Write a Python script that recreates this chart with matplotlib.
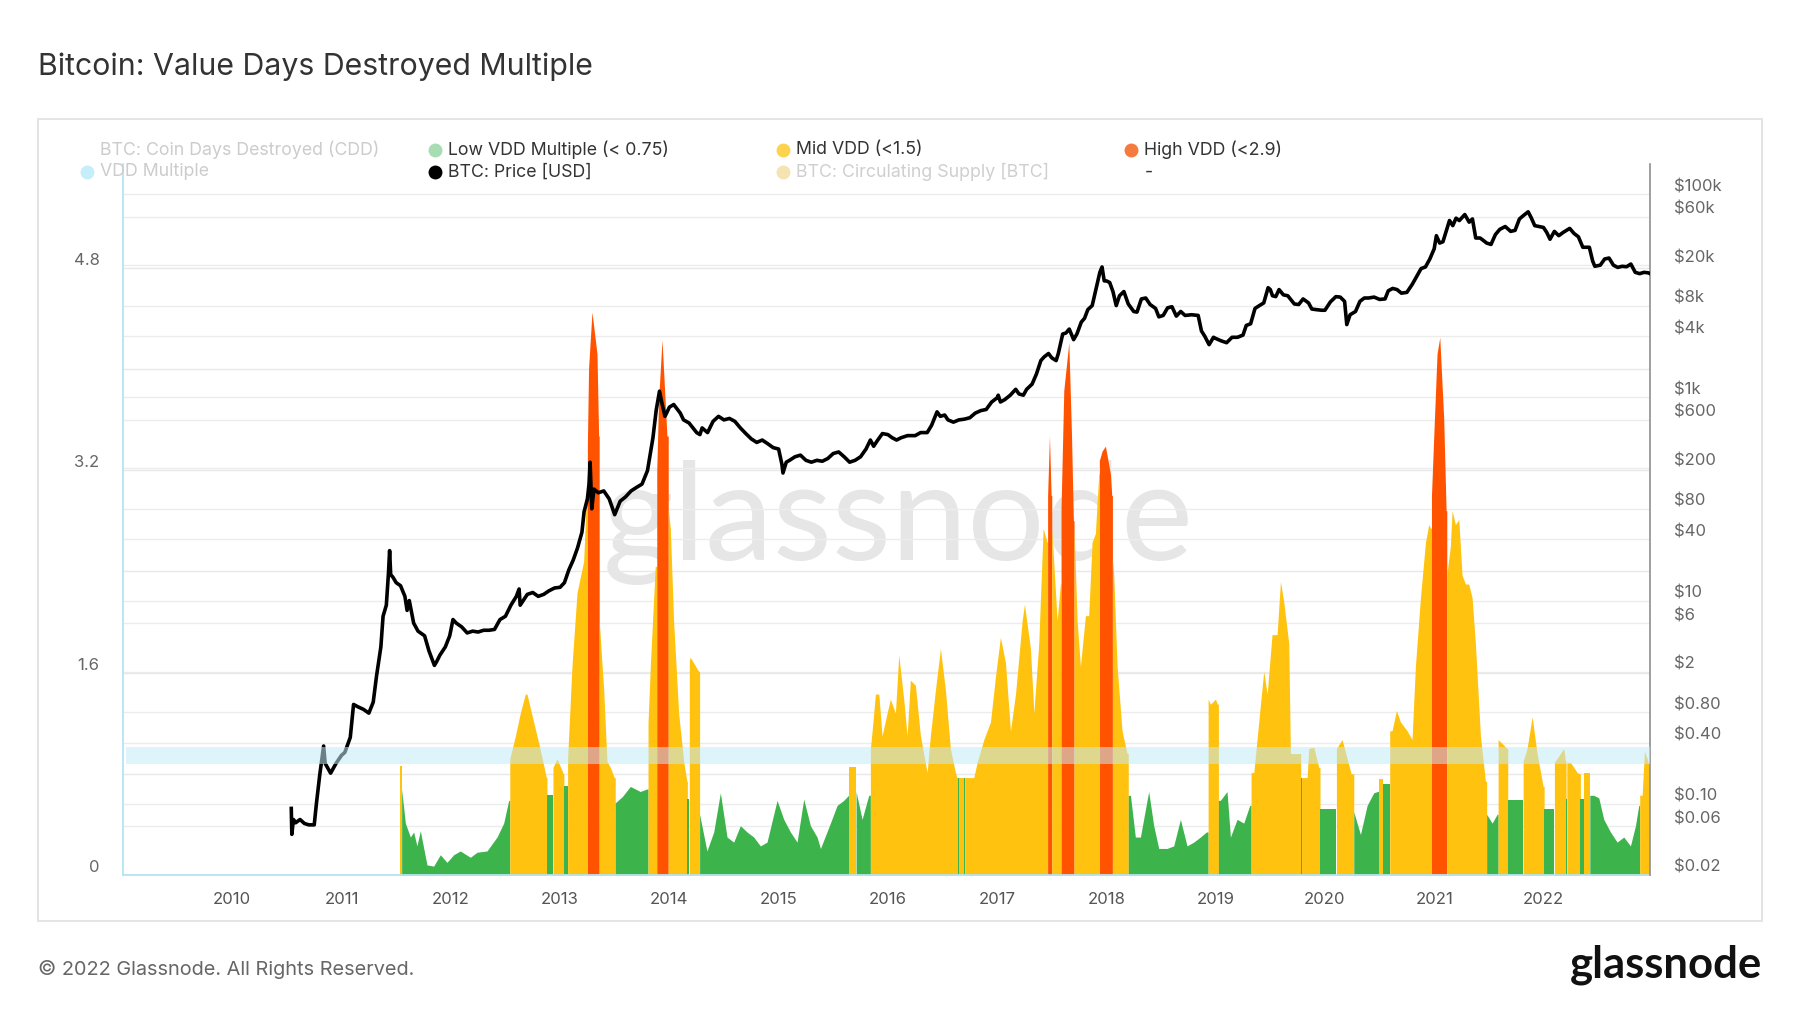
import numpy as np
import matplotlib
matplotlib.use('Agg')
import matplotlib.pyplot as plt
from matplotlib.lines import Line2D
from matplotlib.patches import Rectangle
from matplotlib.ticker import FixedLocator, NullLocator
import matplotlib.transforms as mtransforms

plt.rcParams['font.family'] = ['Inter', 'DejaVu Sans']

# ---------------- data ----------------
# VDD multiple samples: decimal year, value, level (0 low / 1 mid / 2 high)
vdd_year = [
    2011.535, 2011.550, 2011.584, 2011.630, 2011.660, 2011.690, 2011.721, 2011.782, 2011.843, 2011.904,
    2011.965, 2012.026, 2012.087, 2012.179, 2012.240, 2012.331, 2012.423, 2012.484, 2012.530, 2012.540,
    2012.591, 2012.636, 2012.682, 2012.697, 2012.758, 2012.819, 2012.874, 2012.880, 2012.926, 2012.935,
    2012.972, 2013.030, 2013.035, 2013.063, 2013.069, 2013.109, 2013.155, 2013.216, 2013.246, 2013.250,
    2013.261, 2013.292, 2013.338, 2013.353, 2013.358, 2013.399, 2013.429, 2013.460, 2013.496, 2013.505,
    2013.570, 2013.643, 2013.734, 2013.795, 2013.805, 2013.826, 2013.871, 2013.885, 2013.902, 2013.933,
    2013.978, 2013.990, 2014.009, 2014.039, 2014.085, 2014.131, 2014.161, 2014.165, 2014.177, 2014.183,
    2014.192, 2014.268, 2014.277, 2014.344, 2014.406, 2014.467, 2014.528, 2014.589, 2014.650, 2014.711,
    2014.772, 2014.833, 2014.894, 2014.986, 2015.047, 2015.108, 2015.169, 2015.230, 2015.291, 2015.352,
    2015.383, 2015.474, 2015.535, 2015.596, 2015.640, 2015.648, 2015.703, 2015.709, 2015.764, 2015.825,
    2015.840, 2015.856, 2015.886, 2015.917, 2015.947, 2015.993, 2016.023, 2016.069, 2016.100, 2016.145,
    2016.176, 2016.206, 2016.252, 2016.298, 2016.359, 2016.389, 2016.435, 2016.481, 2016.527, 2016.572,
    2016.618, 2016.633, 2016.640, 2016.648, 2016.695, 2016.703, 2016.725, 2016.786, 2016.817, 2016.878,
    2016.939, 2016.985, 2017.030, 2017.076, 2017.122, 2017.168, 2017.229, 2017.250, 2017.305, 2017.336,
    2017.381, 2017.421, 2017.457, 2017.462, 2017.479, 2017.494, 2017.500, 2017.549, 2017.579, 2017.585,
    2017.610, 2017.656, 2017.680, 2017.698, 2017.704, 2017.732, 2017.762, 2017.808, 2017.838, 2017.869,
    2017.899, 2017.930, 2017.937, 2017.960, 2017.991, 2018.037, 2018.049, 2018.055, 2018.067, 2018.098,
    2018.143, 2018.189, 2018.200, 2018.220, 2018.265, 2018.311, 2018.387, 2018.433, 2018.479, 2018.555,
    2018.616, 2018.677, 2018.738, 2018.799, 2018.860, 2018.915, 2018.931, 2018.952, 2018.998, 2019.016,
    2019.025, 2019.043, 2019.104, 2019.135, 2019.196, 2019.257, 2019.312, 2019.324, 2019.349, 2019.410,
    2019.440, 2019.471, 2019.516, 2019.562, 2019.593, 2019.623, 2019.669, 2019.684, 2019.730, 2019.770,
    2019.778, 2019.786, 2019.837, 2019.852, 2019.898, 2019.944, 2019.955, 2020.096, 2020.105, 2020.157,
    2020.240, 2020.264, 2020.294, 2020.325, 2020.386, 2020.447, 2020.483, 2020.492, 2020.523, 2020.529,
    2020.584, 2020.593, 2020.614, 2020.654, 2020.691, 2020.752, 2020.797, 2020.828, 2020.874, 2020.920,
    2020.950, 2020.968, 2020.975, 2020.996, 2021.026, 2021.051, 2021.087, 2021.109, 2021.115, 2021.148,
    2021.164, 2021.194, 2021.225, 2021.255, 2021.286, 2021.316, 2021.347, 2021.377, 2021.423, 2021.469,
    2021.480, 2021.530, 2021.576, 2021.585, 2021.667, 2021.673, 2021.805, 2021.814, 2021.850, 2021.896,
    2021.942, 2021.997, 2022.006, 2022.094, 2022.100, 2022.186, 2022.201, 2022.207, 2022.214, 2022.247,
    2022.308, 2022.332, 2022.338, 2022.363, 2022.369, 2022.415, 2022.424, 2022.460, 2022.506, 2022.552,
    2022.613, 2022.674, 2022.735, 2022.796, 2022.842, 2022.872, 2022.881, 2022.903, 2022.924, 2022.949,
    2022.970,
]
vdd_value = [
    0.86, 0.68, 0.41, 0.30, 0.34, 0.23, 0.35, 0.08, 0.07, 0.16,
    0.10, 0.16, 0.19, 0.14, 0.18, 0.19, 0.30, 0.41, 0.59, 0.92,
    1.10, 1.28, 1.43, 1.43, 1.21, 0.99, 0.77, 0.63, 0.63, 0.85,
    0.92, 0.80, 0.70, 0.70, 0.92, 1.65, 2.23, 2.48, 3.10, 3.40,
    4.01, 4.45, 4.12, 3.47, 2.01, 1.47, 0.90, 0.85, 0.77, 0.57,
    0.62, 0.70, 0.66, 0.68, 1.20, 1.65, 2.44, 3.20, 3.76, 4.23,
    3.47, 2.90, 2.74, 2.01, 1.28, 0.90, 0.74, 0.60, 0.60, 1.70,
    1.72, 1.61, 0.48, 0.19, 0.34, 0.65, 0.30, 0.26, 0.39, 0.34,
    0.30, 0.23, 0.26, 0.59, 0.44, 0.34, 0.26, 0.60, 0.39, 0.30,
    0.21, 0.41, 0.55, 0.59, 0.63, 0.85, 0.85, 0.66, 0.44, 0.63,
    1.00, 1.14, 1.43, 1.43, 1.10, 1.28, 1.39, 1.28, 1.74, 1.39,
    1.10, 1.54, 1.50, 1.10, 0.81, 1.10, 1.46, 1.79, 1.46, 1.00,
    0.81, 0.77, 0.77, 0.77, 0.77, 0.77, 0.77, 0.77, 0.89, 1.07,
    1.21, 1.57, 1.88, 1.68, 1.14, 1.43, 2.01, 2.14, 1.79, 1.28,
    1.83, 2.74, 2.63, 3.00, 3.47, 3.00, 2.74, 2.01, 2.30, 2.90,
    3.83, 4.21, 3.50, 2.80, 2.74, 2.01, 1.65, 2.05, 2.05, 2.63,
    2.70, 3.17, 3.28, 3.35, 3.39, 3.17, 3.00, 2.50, 2.37, 1.65,
    1.14, 0.96, 0.63, 0.63, 0.30, 0.30, 0.66, 0.39, 0.21, 0.21,
    0.23, 0.44, 0.23, 0.26, 0.30, 0.34, 1.39, 1.35, 1.39, 1.35,
    0.59, 0.59, 0.66, 0.30, 0.44, 0.41, 0.55, 0.81, 0.81, 1.35,
    1.61, 1.43, 1.90, 1.90, 2.32, 2.16, 1.83, 0.96, 0.96, 0.96,
    0.77, 0.77, 0.77, 1.00, 1.01, 0.85, 0.52, 0.52, 1.00, 1.07,
    0.80, 0.50, 0.41, 0.32, 0.55, 0.65, 0.66, 0.76, 0.76, 0.72,
    0.72, 1.14, 1.14, 1.30, 1.21, 1.14, 1.07, 1.65, 2.19, 2.63,
    2.77, 2.74, 3.00, 3.47, 4.12, 4.25, 3.61, 2.88, 2.37, 2.60,
    2.88, 2.77, 2.81, 2.37, 2.30, 2.30, 2.19, 1.83, 1.10, 0.74,
    0.48, 0.41, 0.48, 1.07, 1.00, 0.59, 0.59, 0.90, 1.00, 1.25,
    0.96, 0.70, 0.52, 0.52, 0.89, 1.00, 0.90, 0.60, 0.89, 0.89,
    0.81, 0.80, 0.60, 0.60, 0.81, 0.81, 0.63, 0.63, 0.61, 0.44,
    0.34, 0.26, 0.30, 0.23, 0.39, 0.55, 0.63, 0.63, 0.98, 0.92,
    0.85,
]
vdd_level = [
    1, 0, 0, 0, 0, 0, 0, 0, 0, 0,
    0, 0, 0, 0, 0, 0, 0, 0, 0, 1,
    1, 1, 1, 1, 1, 1, 1, 0, 0, 1,
    1, 1, 0, 0, 1, 1, 1, 1, 1, 2,
    2, 2, 2, 2, 1, 1, 1, 1, 1, 0,
    0, 0, 0, 0, 1, 1, 1, 2, 2, 2,
    2, 1, 1, 1, 1, 1, 1, 0, 0, 1,
    1, 1, 0, 0, 0, 0, 0, 0, 0, 0,
    0, 0, 0, 0, 0, 0, 0, 0, 0, 0,
    0, 0, 0, 0, 0, 1, 1, 0, 0, 0,
    1, 1, 1, 1, 1, 1, 1, 1, 1, 1,
    1, 1, 1, 1, 1, 1, 1, 1, 1, 1,
    1, 1, 0, 1, 0, 1, 1, 1, 1, 1,
    1, 1, 1, 1, 1, 1, 1, 1, 1, 1,
    1, 1, 1, 2, 2, 2, 1, 1, 1, 2,
    2, 2, 2, 2, 1, 1, 1, 1, 1, 1,
    1, 1, 2, 2, 2, 2, 2, 1, 1, 1,
    1, 1, 0, 0, 0, 0, 0, 0, 0, 0,
    0, 0, 0, 0, 0, 0, 1, 1, 1, 1,
    0, 0, 0, 0, 0, 0, 0, 1, 1, 1,
    1, 1, 1, 1, 1, 1, 1, 1, 1, 1,
    0, 1, 1, 1, 1, 1, 0, 0, 1, 1,
    1, 0, 0, 0, 0, 0, 0, 1, 1, 0,
    0, 1, 1, 1, 1, 1, 1, 1, 1, 1,
    1, 1, 2, 2, 2, 2, 2, 2, 1, 1,
    1, 1, 1, 1, 1, 1, 1, 1, 1, 1,
    0, 0, 0, 1, 1, 0, 0, 1, 1, 1,
    1, 1, 0, 0, 1, 1, 1, 0, 1, 1,
    1, 1, 0, 0, 1, 1, 0, 0, 0, 0,
    0, 0, 0, 0, 0, 0, 1, 1, 1, 1,
    1,
]

# BTC price (USD)
price_year = [
    2010.540, 2010.545, 2010.560, 2010.580, 2010.620, 2010.660, 2010.700, 2010.750, 2010.770, 2010.800,
    2010.836, 2010.850, 2010.900, 2010.950, 2011.000, 2011.030, 2011.080, 2011.110, 2011.150, 2011.200,
    2011.250, 2011.290, 2011.320, 2011.360, 2011.380, 2011.410, 2011.430, 2011.440, 2011.450, 2011.470,
    2011.500, 2011.540, 2011.580, 2011.600, 2011.620, 2011.660, 2011.700, 2011.760, 2011.800, 2011.850,
    2011.870, 2011.900, 2011.950, 2011.990, 2012.020, 2012.050, 2012.100, 2012.150, 2012.200, 2012.250,
    2012.300, 2012.350, 2012.400, 2012.450, 2012.500, 2012.550, 2012.600, 2012.625, 2012.635, 2012.700,
    2012.750, 2012.800, 2012.850, 2012.900, 2012.950, 2013.000, 2013.040, 2013.080, 2013.120, 2013.160,
    2013.200, 2013.220, 2013.250, 2013.265, 2013.275, 2013.290, 2013.310, 2013.350, 2013.400, 2013.450,
    2013.500, 2013.550, 2013.600, 2013.650, 2013.700, 2013.750, 2013.800, 2013.850, 2013.880, 2013.910,
    2013.930, 2013.960, 2013.975, 2014.000, 2014.040, 2014.100, 2014.130, 2014.180, 2014.250, 2014.280,
    2014.300, 2014.350, 2014.400, 2014.450, 2014.500, 2014.550, 2014.600, 2014.650, 2014.700, 2014.750,
    2014.800, 2014.850, 2014.900, 2014.950, 2015.000, 2015.030, 2015.040, 2015.070, 2015.100, 2015.150,
    2015.200, 2015.250, 2015.300, 2015.350, 2015.400, 2015.450, 2015.500, 2015.550, 2015.600, 2015.650,
    2015.700, 2015.750, 2015.800, 2015.840, 2015.870, 2015.900, 2015.950, 2016.000, 2016.040, 2016.080,
    2016.120, 2016.180, 2016.250, 2016.300, 2016.360, 2016.400, 2016.450, 2016.480, 2016.520, 2016.550,
    2016.600, 2016.650, 2016.700, 2016.750, 2016.800, 2016.850, 2016.900, 2016.950, 2017.000, 2017.010,
    2017.030, 2017.070, 2017.120, 2017.170, 2017.200, 2017.240, 2017.270, 2017.320, 2017.360, 2017.400,
    2017.430, 2017.470, 2017.500, 2017.540, 2017.560, 2017.600, 2017.630, 2017.660, 2017.700, 2017.730,
    2017.770, 2017.800, 2017.830, 2017.870, 2017.900, 2017.940, 2017.960, 2017.980, 2018.000, 2018.030,
    2018.060, 2018.090, 2018.120, 2018.160, 2018.200, 2018.250, 2018.280, 2018.320, 2018.360, 2018.400,
    2018.450, 2018.480, 2018.520, 2018.560, 2018.600, 2018.640, 2018.680, 2018.720, 2018.780, 2018.840,
    2018.870, 2018.900, 2018.940, 2018.980, 2019.000, 2019.050, 2019.100, 2019.150, 2019.200, 2019.250,
    2019.280, 2019.320, 2019.360, 2019.400, 2019.440, 2019.480, 2019.500, 2019.520, 2019.550, 2019.580,
    2019.620, 2019.660, 2019.720, 2019.760, 2019.800, 2019.850, 2019.880, 2019.920, 2019.970, 2020.000,
    2020.050, 2020.100, 2020.140, 2020.180, 2020.200, 2020.230, 2020.280, 2020.320, 2020.360, 2020.400,
    2020.450, 2020.500, 2020.550, 2020.580, 2020.620, 2020.660, 2020.700, 2020.750, 2020.800, 2020.840,
    2020.880, 2020.920, 2020.960, 2021.000, 2021.020, 2021.050, 2021.080, 2021.120, 2021.140, 2021.170,
    2021.200, 2021.230, 2021.280, 2021.320, 2021.350, 2021.380, 2021.420, 2021.450, 2021.480, 2021.520,
    2021.560, 2021.600, 2021.650, 2021.700, 2021.740, 2021.780, 2021.820, 2021.860, 2021.890, 2021.920,
    2021.960, 2022.000, 2022.030, 2022.060, 2022.100, 2022.140, 2022.180, 2022.240, 2022.280, 2022.320,
    2022.360, 2022.420, 2022.450, 2022.470, 2022.520, 2022.560, 2022.600, 2022.640, 2022.680, 2022.720,
    2022.760, 2022.800, 2022.840, 2022.880, 2022.920, 2022.960, 2022.970,
]
price_usd = [
    0.09, 0.05, 0.07, 0.065, 0.07, 0.064, 0.062, 0.062, 0.10, 0.19,
    0.37, 0.25, 0.20, 0.25, 0.30, 0.32, 0.45, 0.95, 0.90, 0.85,
    0.78, 1.0, 1.8, 3.5, 7.0, 9.0, 19.0, 31.0, 18.0, 17.0,
    15.0, 14.0, 11.0, 8.0, 10.0, 6.0, 5.0, 4.5, 3.2, 2.3,
    2.5, 2.9, 3.5, 4.5, 6.5, 6.0, 5.5, 4.8, 5.0, 4.9,
    5.1, 5.1, 5.2, 6.5, 7.0, 9.0, 11.0, 13.0, 9.0, 11.5,
    12.0, 11.0, 11.5, 12.5, 13.3, 13.5, 15.0, 20.0, 25.0, 33.0,
    47.0, 75.0, 100.0, 140.0, 230.0, 80.0, 125.0, 115.0, 120.0, 100.0,
    70.0, 95.0, 105.0, 120.0, 130.0, 140.0, 190.0, 400.0, 750.0, 1150.0,
    900.0, 650.0, 700.0, 800.0, 850.0, 700.0, 600.0, 560.0, 450.0, 430.0,
    500.0, 450.0, 580.0, 650.0, 600.0, 620.0, 580.0, 500.0, 440.0, 390.0,
    360.0, 380.0, 350.0, 320.0, 310.0, 220.0, 180.0, 230.0, 240.0, 260.0,
    270.0, 240.0, 230.0, 240.0, 235.0, 250.0, 280.0, 290.0, 260.0, 230.0,
    240.0, 260.0, 310.0, 380.0, 330.0, 370.0, 440.0, 430.0, 400.0, 380.0,
    400.0, 420.0, 420.0, 450.0, 450.0, 530.0, 720.0, 650.0, 670.0, 600.0,
    570.0, 600.0, 610.0, 630.0, 700.0, 740.0, 760.0, 900.0, 990.0, 1050.0,
    900.0, 950.0, 1050.0, 1200.0, 1080.0, 1050.0, 1200.0, 1350.0, 1700.0, 2300.0,
    2500.0, 2700.0, 2450.0, 2300.0, 2700.0, 4200.0, 4300.0, 4700.0, 3700.0, 4200.0,
    5500.0, 6000.0, 7300.0, 8000.0, 11000.0, 17000.0, 19200.0, 14000.0, 14000.0, 13500.0,
    11000.0, 8000.0, 10000.0, 11000.0, 8300.0, 7000.0, 6900.0, 9300.0, 9500.0, 8200.0,
    7500.0, 6200.0, 6400.0, 7600.0, 7800.0, 6300.0, 7000.0, 6400.0, 6500.0, 6400.0,
    4500.0, 4000.0, 3300.0, 3900.0, 3800.0, 3600.0, 3450.0, 3900.0, 3900.0, 4100.0,
    5100.0, 5300.0, 7500.0, 8000.0, 8500.0, 12000.0, 11500.0, 10000.0, 9800.0, 11500.0,
    10200.0, 10000.0, 8300.0, 8200.0, 9300.0, 8500.0, 7400.0, 7300.0, 7200.0, 7200.0,
    8700.0, 9800.0, 9700.0, 8800.0, 5200.0, 6500.0, 7000.0, 8800.0, 9500.0, 9500.0,
    9700.0, 9200.0, 9300.0, 11200.0, 11800.0, 11500.0, 10600.0, 10800.0, 13000.0, 15500.0,
    18500.0, 19200.0, 23000.0, 29000.0, 39000.0, 33000.0, 34000.0, 47000.0, 55000.0, 49000.0,
    58000.0, 55000.0, 63000.0, 53000.0, 57000.0, 37000.0, 37000.0, 35000.0, 33000.0, 32000.0,
    40000.0, 45000.0, 48000.0, 43000.0, 44000.0, 57000.0, 62000.0, 67000.0, 58000.0, 49000.0,
    48000.0, 47000.0, 42000.0, 36000.0, 43000.0, 39000.0, 42000.0, 46000.0, 41000.0, 38000.0,
    30000.0, 30000.0, 22000.0, 19500.0, 20000.0, 23000.0, 23500.0, 20000.0, 19000.0, 19500.0,
    19300.0, 20500.0, 17000.0, 16500.0, 17000.0, 16800.0, 16600.0,
]

year_ticks = list(range(2010, 2023))
year_labels = [str(y) for y in year_ticks]
vdd_ticks = [0, 0.8, 1.6, 2.4, 3.2, 4.0, 4.8]
vdd_tick_labels = ['0', '', '1.6', '', '3.2', '', '4.8']
price_ticks = [1e5, 6e4, 2e4, 8e3, 4e3, 1e3, 600, 200, 80, 40, 10, 6, 2, 0.8, 0.4, 0.1, 0.06, 0.02]
price_tick_labels = ['$100k', '$60k', '$20k', '$8k', '$4k', '$1k', '$600', '$200', '$80', '$40',
                     '$10', '$6', '$2', '$0.80', '$0.40', '$0.10', '$0.06', '$0.02']
band_low, band_high = 0.88, 1.01

level_colors = ['#3cb44b', '#fec20f', '#ff5300']

# ---------------- figure ----------------
W, H = 1800, 1013
fig = plt.figure(figsize=(W / 100, H / 100), dpi=100)
fig.patch.set_facecolor('white')


def fx(px):
    return px / W


def fy(py):
    return 1 - py / H


L, R, T, B = 123, 1650, 164, 875
rect = [fx(L), fy(B), (R - L) / W, (B - T) / H]

ax_p = fig.add_axes(rect, zorder=1)   # price grid + right labels
ax_v = fig.add_axes(rect, zorder=2)   # VDD bars
ax_l = fig.add_axes(rect, zorder=3)   # price line + band
for a in (ax_p, ax_v, ax_l):
    a.patch.set_visible(False)

xlim = (2009.0, 2022.975)
for a in (ax_p, ax_v, ax_l):
    a.set_xlim(*xlim)

# price axes (grid + labels)
for a in (ax_p, ax_l):
    a.set_yscale('log')
    a.set_ylim(0.0199, 198000)
ax_p.yaxis.set_major_locator(FixedLocator(price_ticks))
ax_p.yaxis.set_minor_locator(NullLocator())
ax_p.set_yticklabels(price_tick_labels)
ax_p.yaxis.tick_right()
ax_p.tick_params(axis='y', which='both', length=0, pad=17, labelsize=12, labelcolor='#666666')
ax_p.set_xticks([])
ax_p.grid(axis='y', color='#ececec', lw=1.0)
for s in ['top', 'left', 'bottom', 'right']:
    ax_p.spines[s].set_visible(False)

# watermark
ax_p.text(fx(898), fy(560), 'glassnode', transform=fig.transFigure, ha='center', va='baseline',
          fontsize=100, color='#e6e6e6', family=['Lato', 'DejaVu Sans'], zorder=0)

# VDD axes
ax_v.set_ylim(0, 5.62)
ax_v.yaxis.set_major_locator(FixedLocator(vdd_ticks))
ax_v.set_yticklabels(vdd_tick_labels)
ax_v.tick_params(axis='y', length=0, pad=17, labelsize=12, labelcolor='#666666')
ax_v.set_xticks(year_ticks)
ax_v.set_xticklabels(year_labels)
ax_v.tick_params(axis='x', length=0, pad=12, labelsize=12, labelcolor='#555555')
ax_v.set_axisbelow(True)
ax_v.grid(axis='y', color='#e8e8e8', lw=1.0)
for s in ['top', 'right']:
    ax_v.spines[s].set_visible(False)
for s in ['left', 'bottom']:
    ax_v.spines[s].set_color('#b4e4f2')
    ax_v.spines[s].set_linewidth(1.3)

xv = np.array(vdd_year)
yv = np.array(vdd_value)
lv = np.array(vdd_level)
n = len(xv)
i = 0
while i < n:
    j = i
    while j + 1 < n and lv[j + 1] == lv[i]:
        j += 1
    xs = xv[i:j + 2]
    ys = yv[i:j + 1]
    if j + 1 < n:
        ys = np.append(ys, yv[j])
    ax_v.fill_between(xs, 0, ys, color=level_colors[lv[i]], lw=0, zorder=2)
    i = j + 1

# price line + band (top axes)
ax_l.set_xticks([])
ax_l.set_yticks([])
ax_l.yaxis.set_minor_locator(NullLocator())
for s in ['top', 'left', 'bottom']:
    ax_l.spines[s].set_visible(False)
ax_l.spines['right'].set_color('#8f8f8f')
ax_l.spines['right'].set_linewidth(1.2)
ax_l.plot(price_year, price_usd, color='black', lw=2.6, solid_joinstyle='round', zorder=3)
band_tr = mtransforms.blended_transform_factory(ax_v.transAxes, ax_v.transData)
ax_l.add_patch(Rectangle((0.002, band_low), 0.998, band_high - band_low, transform=band_tr,
                         facecolor='#c3ebf8', alpha=0.55, lw=0, zorder=4))

# outer frame
fig.patches.append(Rectangle((fx(38), fy(921)), (1762 - 38) / W, (921 - 119) / H,
                             transform=fig.transFigure, fill=False, ec='#e2e2e2', lw=1.3))

# title
title = fig.text(fx(38), fy(75), 'Bitcoin: Value Days Destroyed Multiple', ha='left', va='baseline',
                 fontsize=20, color='#333333')

# legend
leg_items = [
    (100, 150, None, 'BTC: Coin Days Destroyed (CDD)', '#cccccc'),
    (448, 150, '#a8dcb2', 'Low VDD Multiple (< 0.75)', '#333333'),
    (796, 150, '#fcd34f', 'Mid VDD (<1.5)', '#333333'),
    (1144, 150, '#f47a40', 'High VDD (<2.9)', '#333333'),
    (100, 172, '#c6eef9', 'VDD Multiple', '#cccccc'),
    (448, 172, '#000000', 'BTC: Price [USD]', '#333333'),
    (796, 172, '#f5e3b3', 'BTC: Circulating Supply [BTC]', '#cfcfcf'),
    (1145, 172, None, '-', '#333333'),
]
leg_texts = []
for (x, y, dc, label, tc) in leg_items:
    if dc is not None:
        fig.add_artist(Line2D([fx(x - 13)], [fy(y)], marker='o', markersize=9, color=dc, lw=0,
                              transform=fig.transFigure))
    t = fig.text(fx(x), fy(y), label, ha='left', va='center', fontsize=12.5, color=tc)
    leg_texts.append(t)

# footer
footer = fig.text(fx(38), fy(975), '\u00a9 2022 Glassnode. All Rights Reserved.', ha='left', va='baseline',
                  fontsize=14, color='#666666')
logo = fig.text(fx(1762), fy(977), 'glassnode', ha='right', va='baseline', fontsize=28, color='#111111',
                family=['Lato', 'DejaVu Sans'], weight='bold')

# fit text widths to the reference
fig.canvas.draw()
r = fig.canvas.get_renderer()


def fit(t, target):
    w = t.get_window_extent(r).width
    t.set_fontsize(t.get_fontsize() * target / w)


fit(title, 555)
fit(footer, 378)
fit(logo, 192)
fit(ax_p.texts[0], 591)
fit(leg_texts[1], 221)
for t in leg_texts:
    t.set_fontsize(leg_texts[1].get_fontsize())

# shift y tick labels slightly above gridlines
off = mtransforms.ScaledTranslation(0, 9 / 100, fig.dpi_scale_trans)
for lab in ax_p.get_yticklabels() + ax_v.get_yticklabels():
    lab.set_transform(lab.get_transform() + off)

fig.savefig('out.png', dpi=100, facecolor='white')
